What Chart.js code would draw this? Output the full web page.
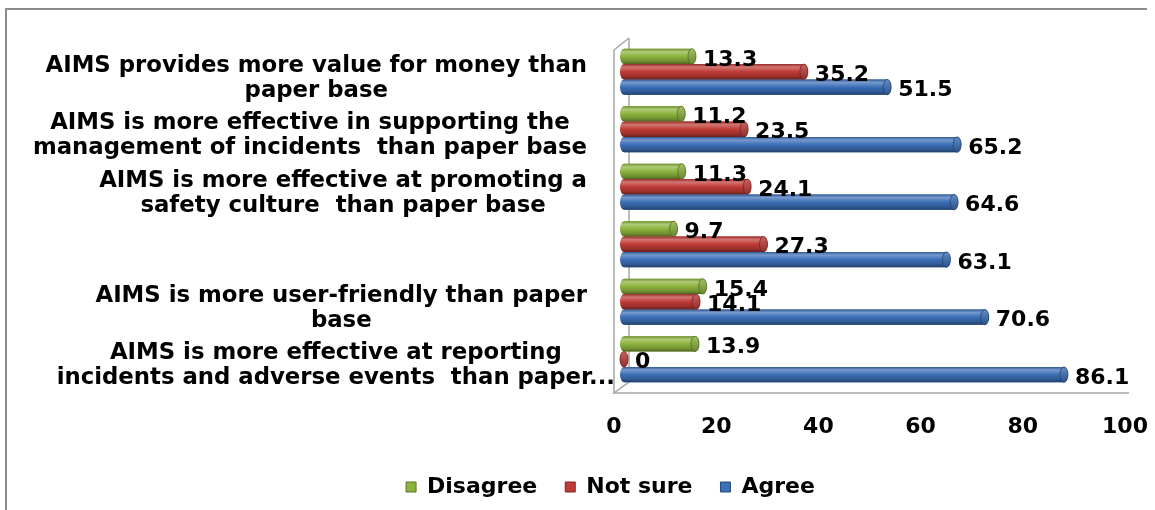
<!DOCTYPE html>
<html>
<head>
<meta charset="utf-8">
<script src="https://cdn.jsdelivr.net/npm/chart.js@4/dist/chart.umd.min.js"></script>
<style>
  html, body { margin: 0; padding: 0; background: #fff; }
  #wrap { position: relative; width: 1147px; height: 510px; overflow: hidden; }
  #wrap canvas { position: absolute; left: 0; top: 0; }
  #frame { position: absolute; left: 5px; top: 8px; width: 1300px; height: 700px;
           border-top: 2px solid #8c8c8c; border-left: 2px solid #8c8c8c; pointer-events: none; }
</style>
</head>
<body>
<div id="wrap">
  <canvas id="chart" width="1221" height="510"></canvas>
  <div id="frame"></div>
</div>
<script>
// Survey statements (top to bottom) and the share of answers per response
const categories = [
  ['AIMS provides more value for money than', 'paper base'],
  ['AIMS is more effective in supporting the', 'management of incidents  than paper base'],
  ['AIMS is more effective at promoting a', 'safety culture  than paper base'],
  [''],
  ['AIMS is more user-friendly than paper', 'base'],
  ['AIMS is more effective at reporting', 'incidents and adverse events  than paper...']
];
const disagree = [13.3, 11.2, 11.3, 9.7, 15.4, 13.9];
const notSure  = [35.2, 23.5, 24.1, 27.3, 14.1, 0];
const agree    = [51.5, 65.2, 64.6, 63.1, 70.6, 86.1];
const seriesNames = ['Disagree', 'Not sure', 'Agree'];
const xTicks = [0, 20, 40, 60, 80, 100];

const GREEN = '#8cb33d';
const RED   = '#bf3b36';
const BLUE  = '#3b6fb8';
const FONT  = 'DejaVu Sans';

function shade(hex, f) {
  const n = parseInt(hex.slice(1), 16);
  let r = n >> 16, g = (n >> 8) & 255, b = n & 255;
  if (f <= 1) { r *= f; g *= f; b *= f; }
  else { const t = f - 1; r += (255 - r) * t; g += (255 - g) * t; b += (255 - b) * t; }
  return 'rgb(' + Math.round(r) + ',' + Math.round(g) + ',' + Math.round(b) + ')';
}

// Horizontal cylinder between two x pixels, centred on yc
function drawCylinder(ctx, x0, x1, yc, h, color) {
  const top = yc - h / 2, bot = yc + h / 2;
  const rx = Math.min(4, h * 0.27), ry = h / 2;
  const g = ctx.createLinearGradient(0, top, 0, bot);
  g.addColorStop(0, shade(color, 0.8));
  g.addColorStop(0.2, shade(color, 1.3));
  g.addColorStop(0.5, color);
  g.addColorStop(0.82, shade(color, 0.8));
  g.addColorStop(1, shade(color, 0.55));
  ctx.beginPath();
  ctx.moveTo(x0, top);
  ctx.lineTo(x1, top);
  ctx.ellipse(x1, yc, rx, ry, 0, -Math.PI / 2, Math.PI / 2, false);
  ctx.lineTo(x0, bot);
  ctx.ellipse(x0, yc, rx, ry, 0, Math.PI / 2, Math.PI * 1.5, false);
  ctx.closePath();
  ctx.fillStyle = g;
  ctx.fill();
  // end face
  ctx.beginPath();
  ctx.ellipse(x1, yc, rx, ry, 0, 0, Math.PI * 2);
  const g2 = ctx.createLinearGradient(0, top, 0, bot);
  g2.addColorStop(0, shade(color, 1.2));
  g2.addColorStop(1, shade(color, 0.75));
  ctx.fillStyle = g2;
  ctx.fill();
  ctx.strokeStyle = shade(color, 0.6);
  ctx.lineWidth = 0.8;
  ctx.stroke();
}

// Back wall and floor edges of the 3-D plot box
const wallPlugin = {
  id: 'wall',
  beforeDatasetsDraw(chart) {
    const { ctx, chartArea: a, scales: { x } } = chart;
    const bx = a.left + 5, fx = a.left - 10;
    ctx.save();
    ctx.strokeStyle = '#a6a6a6';
    ctx.lineWidth = 1.5;
    ctx.beginPath();
    ctx.moveTo(bx, a.top - 5);
    ctx.lineTo(bx, a.bottom - 6);
    ctx.lineTo(fx, a.bottom + 5);
    ctx.lineTo(x.getPixelForValue(100) - 6, a.bottom + 5);
    ctx.moveTo(bx, a.top - 5);
    ctx.lineTo(fx, a.top + 7);
    ctx.lineTo(fx, a.bottom + 5);
    ctx.stroke();
    ctx.restore();
  }
};

// Shaded cylinders over the bar elements, then their value labels
const cylinderPlugin = {
  id: 'cylinders',
  afterDatasetsDraw(chart) {
    const ctx = chart.ctx;
    ctx.save();
    chart.data.datasets.forEach((ds, di) => {
      const meta = chart.getDatasetMeta(di);
      meta.data.forEach((el) => {
        const p = el.getProps(['x', 'y', 'base', 'height'], true);
        drawCylinder(ctx, p.base, p.x, p.y, p.height, ds.backgroundColor);
      });
    });
    ctx.font = 'bold 22px "' + FONT + '"';
    ctx.fillStyle = '#000';
    ctx.textAlign = 'left';
    ctx.textBaseline = 'middle';
    chart.data.datasets.forEach((ds, di) => {
      const meta = chart.getDatasetMeta(di);
      meta.data.forEach((el, i) => {
        const p = el.getProps(['x', 'y'], true);
        ctx.fillText(String(ds.data[i]), p.x + 11, p.y + 3.5);
      });
    });
    ctx.restore();
  }
};

// Multi-line category labels: each block right-aligned, lines centred within it
const categoryLabelPlugin = {
  id: 'categoryLabels',
  afterDraw(chart) {
    const { ctx, chartArea: a, scales: { y } } = chart;
    ctx.save();
    ctx.font = 'bold 22.8px "' + FONT + '"';
    ctx.fillStyle = '#000';
    ctx.textAlign = 'center';
    ctx.textBaseline = 'middle';
    const lineH = 24.8;
    chart.data.labels.forEach((lines, i) => {
      const widths = lines.map(t => ctx.measureText(t).width);
      const w = Math.max(...widths);
      const truncated = lines[lines.length - 1].endsWith('...');
      const right = truncated ? a.left - 9 : a.left - 37;
      const cx = right - w / 2;
      const cy = y.getPixelForValue(i) + 6.5;
      lines.forEach((t, j) => {
        ctx.fillText(t, cx, cy + (j - (lines.length - 1) / 2) * lineH);
      });
    });
    ctx.restore();
  }
};

Chart.defaults.font.family = FONT;
Chart.defaults.color = '#000';

const colors = [GREEN, RED, BLUE];
const series = [disagree, notSure, agree];

new Chart(document.getElementById('chart'), {
  type: 'bar',
  data: {
    labels: categories,
    datasets: series.map((d, i) => ({
      label: seriesNames[i],
      data: d,
      backgroundColor: colors[i],
      borderWidth: 0,
      categoryPercentage: 0.8,
      barPercentage: 1.0
    }))
  },
  options: {
    indexAxis: 'y',
    responsive: false,
    animation: false,
    layout: { padding: { top: 43, bottom: 2, left: 0, right: 0 } },
    scales: {
      x: {
        min: 0,
        max: 100,
        afterBuildTicks: (s) => { s.ticks = xTicks.map(v => ({ value: v })); },
        afterFit: (s) => { s.paddingRight = 86; s.height = 60; },
        grid: { display: false, drawTicks: false },
        border: { display: false },
        ticks: {
          font: { size: 22, weight: 'bold' },
          color: '#000',
          labelOffset: -10,
          padding: 26,
          maxRotation: 0,
          autoSkip: false
        }
      },
      y: {
        grid: { display: false, drawTicks: false },
        border: { display: false },
        ticks: { display: false },
        afterFit: (s) => { s.width = 624; }
      }
    },
    plugins: {
      legend: {
        position: 'bottom',
        labels: {
          boxWidth: 10,
          boxHeight: 10,
          padding: 28,
          color: '#000',
          font: { size: 22, weight: 'bold' },
          generateLabels: (chart) =>
            Chart.defaults.plugins.legend.labels.generateLabels(chart).map((l, i) => ({
              ...l, lineWidth: 1, strokeStyle: shade(colors[i], 0.65)
            }))
        }
      },
      tooltip: { enabled: false }
    }
  },
  plugins: [wallPlugin, cylinderPlugin, categoryLabelPlugin]
});
</script>
</body>
</html>
